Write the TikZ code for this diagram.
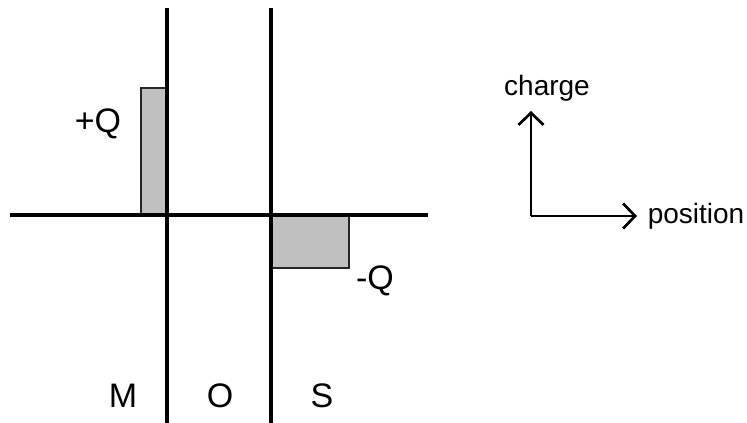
\documentclass[tikz,border=0pt]{standalone}
\usepackage{fontspec}
\setmainfont{Liberation Sans}
\usetikzlibrary{arrows.meta}
\begin{document}
\begin{tikzpicture}[x=1pt,y=-1pt,
  boundary/.style={line width=3.3pt},
  chargebar/.style={draw=black!85,fill={rgb,255:red,192;green,192;blue,192},line width=1.5pt},
  bigtext/.style={font=\fontsize{34}{34}\selectfont,inner sep=0pt},
  axistext/.style={font=\fontsize{28}{28}\selectfont,inner sep=0pt,anchor=base},
  axis/.style={line width=2.7pt,-{Straight Barb[length=12pt,width=25pt,line width=2.7pt]}}]
\useasboundingbox (0,0) rectangle (747,423);
% charge sheets on either side of the oxide
\draw[chargebar] (141,215) rectangle (166,88);
\draw[chargebar] (272,215) rectangle (349,268);
% interfaces and zero-charge line
\draw[boundary] (167,8) -- (167,423);
\draw[boundary] (271,8) -- (271,423);
\draw[boundary] (10,215) -- (428,215);
% labels
\node[bigtext] (qp) at (98,124) {+Q};
\node[bigtext] (qn) at (375,281) {-Q};
\node[bigtext] (m) at (123,396) {M};
\node[bigtext] (o) at (220,396) {O};
\node[bigtext] (s) at (322,396) {S};
% axes key
\coordinate (corner) at (531,216);
\coordinate (up) at (531,111);
\coordinate (right) at (637,216);
\draw[axis] (corner) -- (up);
\draw[axis] (corner) -- (right);
\node[axistext] (charge) at (547,95) {charge};
\node[axistext] (position) at (696,223) {position};
\end{tikzpicture}
\end{document}
